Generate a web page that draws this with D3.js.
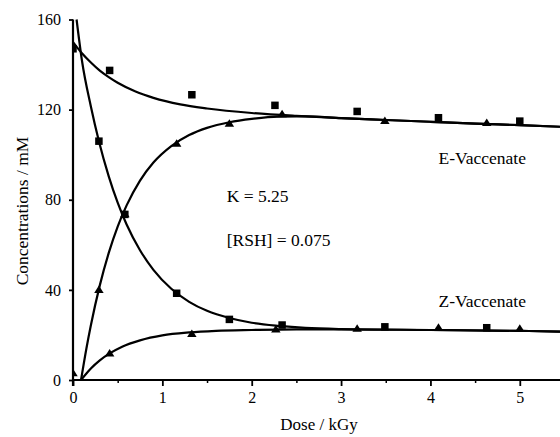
<!DOCTYPE html>
<html>
<head>
<meta charset="utf-8">
<script src="https://cdn.jsdelivr.net/npm/d3@7"></script>
<style>
  html, body { margin: 0; padding: 0; background: #fff; }
  svg { display: block; }
</style>
</head>
<body>
<svg id="chart" width="560" height="437"></svg>
<script>
// ---- data ----
const xTicks = [0, 1, 2, 3, 4, 5];
const xMinorTicks = [0.5, 1.5, 2.5, 3.5, 4.5];
const yTicks = [0, 40, 80, 120, 160];

// experiment 1: E start (squares = E-vaccenate, triangles = Z-vaccenate)
const dose1 = [0, 0.41, 1.33, 2.26, 3.18, 4.09, 5.0];
const eSquares1 = [147, 137.4, 126.6, 121.9, 119.2, 116.4, 114.9];
const dose1z = [0, 0.41, 1.33, 2.27, 3.18, 4.09, 5.0];
const zTriangles1 = [3, 11.8, 20.4, 22.4, 22.8, 23.2, 22.7];

// experiment 2: Z start (squares = Z-vaccenate, triangles = E-vaccenate)
const dose2 = [0.29, 0.58, 1.16, 1.75, 2.34, 3.49, 4.63];
const zSquares2 = [106, 73.5, 38.5, 26.9, 24.4, 23.6, 23.2];
const eTriangles2 = [39.9, 73.6, 104.9, 113.7, 117.9, 114.9, 114.1];

// fitted curves
const fitE1x = [0, 0.1, 0.2, 0.3, 0.4, 0.5, 0.7, 0.9, 1.2, 1.5, 2.0, 2.5, 3.0, 3.5, 4.0, 4.5, 5.0, 5.45];
const fitE1y = [150, 145.0, 140.9, 137.3, 134.4, 131.9, 128.0, 125.2, 122.3, 120.5, 118.5, 117.2, 116.2, 115.4, 114.6, 113.8, 113.1, 112.4];

const fitE2x = [0.09, 0.15, 0.2, 0.3, 0.4, 0.5, 0.6, 0.75, 0.9, 1.1, 1.3, 1.5, 1.75, 2.0, 2.3, 2.6, 3.0, 3.5, 4.0, 4.5, 5.0, 5.45];
const fitE2y = [0, 14.0, 24.3, 42, 56.4, 68.1, 77.5, 88.5, 96.5, 103.8, 108.7, 111.9, 114.4, 115.9, 116.9, 117.0, 116.2, 115.4, 114.6, 113.8, 113.1, 112.4];

const fitZ2x = [0.04, 0.1, 0.2, 0.29, 0.4, 0.5, 0.6, 0.75, 0.9, 1.1, 1.3, 1.5, 1.75, 2.0, 2.3, 2.6, 3.0, 4.0, 5.0, 5.45];
const fitZ2y = [160, 141.8, 121.4, 106, 90.4, 78.7, 69.0, 57.6, 48.9, 40.5, 34.7, 30.7, 27.5, 25.4, 24.0, 23.1, 22.6, 22.2, 21.8, 21.5];

const fitZ1x = [0.09, 0.15, 0.2, 0.3, 0.41, 0.55, 0.75, 1.0, 1.3, 1.6, 2.0, 2.5, 3.0, 4.0, 5.0, 5.45];
const fitZ1y = [0, 2.9, 5.1, 8.7, 11.8, 14.8, 17.6, 19.8, 21.1, 21.8, 22.2, 22.5, 22.5, 22.2, 21.8, 21.5];

const annotations = [
  { text: "E-Vaccenate", x: 4.09, y: 96 },
  { text: "K = 5.25", x: 1.72, y: 79 },
  { text: "[RSH] = 0.075", x: 1.72, y: 59.5 },
  { text: "Z-Vaccenate", x: 4.09, y: 32.5 }
];

// ---- layout ----
const SERIF = "Liberation Serif";
const svg = d3.select("#chart");
const x = d3.scaleLinear().domain([0, 5.45]).range([73, 560]);
const y = d3.scaleLinear().domain([0, 160]).range([380, 19.5]);

svg.append("defs").append("clipPath").attr("id", "plot")
  .append("rect").attr("x", x(0)).attr("y", 0).attr("width", 560 - x(0)).attr("height", y(0));

const zip = (xs, ys) => xs.map((v, i) => [v, ys[i]]);
const line = d3.line().x(d => x(d[0])).y(d => y(d[1])).curve(d3.curveMonotoneX);

const plot = svg.append("g").attr("clip-path", "url(#plot)");

// curves
[[fitE1x, fitE1y], [fitE2x, fitE2y], [fitZ2x, fitZ2y], [fitZ1x, fitZ1y]].forEach(([xs, ys]) => {
  plot.append("path")
    .datum(zip(xs, ys))
    .attr("fill", "none")
    .attr("stroke", "#000")
    .attr("stroke-width", 2.2)
    .attr("d", line);
});

// markers
const sq = 7.5;
function squares(xs, ys) {
  plot.append("g").selectAll("rect").data(zip(xs, ys)).join("rect")
    .attr("x", d => x(d[0]) - sq / 2)
    .attr("y", d => y(d[1]) - sq / 2)
    .attr("width", sq).attr("height", sq)
    .attr("fill", "#000");
}
function triangles(xs, ys) {
  const w = 9.5, h = 7.5;
  plot.append("g").selectAll("path").data(zip(xs, ys)).join("path")
    .attr("d", d => {
      const cx = x(d[0]), cy = y(d[1]);
      return `M${cx},${cy - h * 0.6}L${cx + w / 2},${cy + h * 0.4}L${cx - w / 2},${cy + h * 0.4}Z`;
    })
    .attr("fill", "#000");
}
squares(dose1, eSquares1);
triangles(dose1z, zTriangles1);
squares(dose2, zSquares2);
triangles(dose2, eTriangles2);

// axes
const xAxis = d3.axisBottom(x).tickValues(xTicks).tickFormat(d3.format("d")).tickSize(6).tickPadding(6);
const gx = svg.append("g").attr("transform", "translate(0,380)").call(xAxis);
gx.select(".domain").attr("stroke-width", 2.2).attr("d", `M${x(0)},0H560`);
gx.selectAll(".tick line").attr("stroke-width", 1.8);
gx.selectAll("text").style("font-size", "16px").style("font-family", SERIF);

const xMinor = d3.axisBottom(x).tickValues(xMinorTicks).tickFormat("").tickSize(3);
const gxm = svg.append("g").attr("transform", "translate(0,380)").call(xMinor);
gxm.select(".domain").remove();
gxm.selectAll(".tick line").attr("stroke-width", 1.5);

const yAxis = d3.axisLeft(y).tickValues(yTicks).tickSize(4).tickPadding(8);
const gy = svg.append("g").attr("transform", `translate(${x(0)},0)`).call(yAxis);
gy.select(".domain").attr("stroke-width", 2.2).attr("d", `M0,${y(160)}V386`);
gy.selectAll(".tick line").attr("stroke-width", 1.8);
gy.selectAll("text").style("font-size", "16px").style("font-family", SERIF);

// axis titles
svg.append("text")
  .attr("x", 319).attr("y", 430)
  .attr("text-anchor", "middle")
  .style("font-family", SERIF)
  .style("font-size", "17px")
  .text("Dose / kGy");

svg.append("text")
  .attr("transform", "translate(28,211) rotate(-90)")
  .attr("text-anchor", "middle")
  .style("font-family", SERIF)
  .style("font-size", "17.5px")
  .text("Concentrations / mM");

// annotations
svg.append("g").selectAll("text").data(annotations).join("text")
  .attr("x", d => x(d.x))
  .attr("y", d => y(d.y))
  .style("font-family", SERIF)
  .style("font-size", "17.5px")
  .text(d => d.text);
</script>
</body>
</html>
